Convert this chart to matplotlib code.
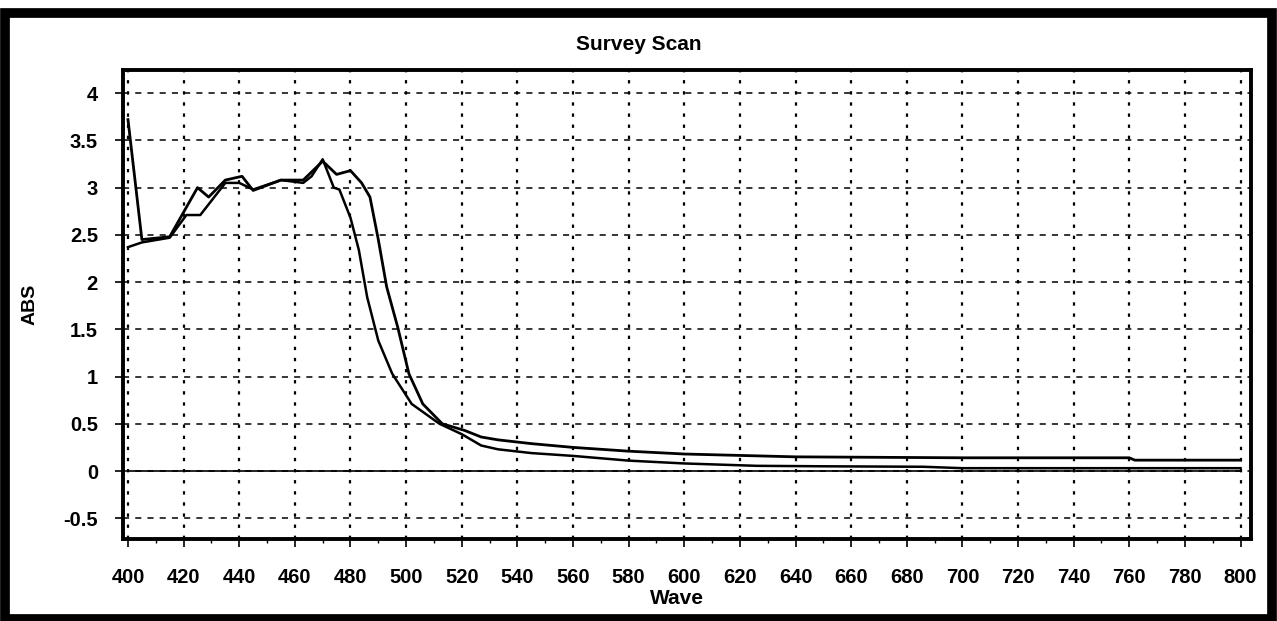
import matplotlib
matplotlib.use("Agg")
import matplotlib.pyplot as plt
from matplotlib.patches import Rectangle
from matplotlib.ticker import MultipleLocator

# sample scan 1 (starts high, band edge further to the red)
wave_a = [400, 405, 415, 425, 429, 435, 441, 445, 455, 463, 470, 475, 480,
          484, 487, 490, 493, 497, 501, 506, 513, 521, 527, 533, 545, 560,
          580, 600, 640, 700, 760, 762, 800]
abs_a = [3.72, 2.45, 2.48, 3.0, 2.9, 3.08, 3.12, 2.97, 3.08, 3.08, 3.28,
         3.14, 3.18, 3.05, 2.9, 2.45, 1.95, 1.52, 1.03, 0.71, 0.5, 0.43,
         0.36, 0.33, 0.29, 0.25, 0.21, 0.18, 0.15, 0.14, 0.14, 0.115, 0.115]

# sample scan 2
wave_b = [400, 405, 415, 421, 426, 435, 440, 445, 455, 463, 466, 470, 474,
          476, 480, 483, 486, 490, 495, 502, 512, 520, 527, 533, 545, 560,
          580, 600, 626, 650, 686, 700, 800]
abs_b = [2.37, 2.42, 2.47, 2.71, 2.71, 3.05, 3.05, 2.98, 3.08, 3.05, 3.12,
         3.3, 3.0, 2.98, 2.68, 2.34, 1.84, 1.38, 1.03, 0.71, 0.5, 0.39,
         0.27, 0.23, 0.19, 0.16, 0.11, 0.08, 0.055, 0.05, 0.045, 0.03, 0.03]

# baseline
wave_base = [400, 800]
abs_base = [0, 0]

x_ticks = list(range(400, 801, 20))
y_ticks = [-0.5, 0, 0.5, 1, 1.5, 2, 2.5, 3, 3.5, 4]
y_labels = ["-0.5", "0", "0.5", "1", "1.5", "2", "2.5", "3", "3.5", "4"]

plt.rcParams["font.family"] = ["Liberation Sans", "DejaVu Sans"]

fig = plt.figure(figsize=(12.77, 6.21), dpi=100)
ax = fig.add_axes([0.0963, 0.132, 0.883, 0.756])

ax.plot(wave_base, abs_base, color="black", linewidth=1.2)
ax.plot(wave_b, abs_b, color="black", linewidth=1.8)
ax.plot(wave_a, abs_a, color="black", linewidth=2.0)

ax.set_xlim(398.2, 803.6)
ax.set_ylim(-0.72, 4.25)

ax.set_xticks(x_ticks)
ax.set_xticklabels([str(t) for t in x_ticks], fontsize=14.5,
                   fontweight="bold")
ax.set_yticks(y_ticks)
ax.set_yticklabels(y_labels, fontsize=14.5, fontweight="bold")
ax.xaxis.set_minor_locator(MultipleLocator(10))
ax.tick_params(axis="both", which="major", direction="out", length=6,
               width=1.2, color="black")
ax.tick_params(axis="x", which="major", pad=15)
ax.tick_params(axis="y", which="major", pad=12)
ax.tick_params(axis="x", which="minor", direction="out", length=3, width=1)

for s in ax.spines.values():
    s.set_linewidth(2.8)
    s.set_color("black")

ax.grid(axis="x", linestyle=(0, (1.5, 3.5)), color="black", linewidth=1.6)
ax.grid(axis="y", linestyle=(0, (4, 4)), color="black", linewidth=1.1)
ax.set_axisbelow(True)

fig.text(0.5, 0.928, "Survey Scan", ha="center", va="center",
         fontsize=15, fontweight="bold")
fig.text(0.53, 0.037, "Wave", ha="center", va="center", fontsize=15,
         fontweight="bold")
ax.set_ylabel("ABS", fontsize=14, fontweight="bold", labelpad=18)

# scanned page border
fig.patches.append(Rectangle((0.004, 0.004), 0.992, 0.975,
                             transform=fig.transFigure, fill=False,
                             edgecolor="black", linewidth=7))

fig.savefig("out.png", dpi=100)
